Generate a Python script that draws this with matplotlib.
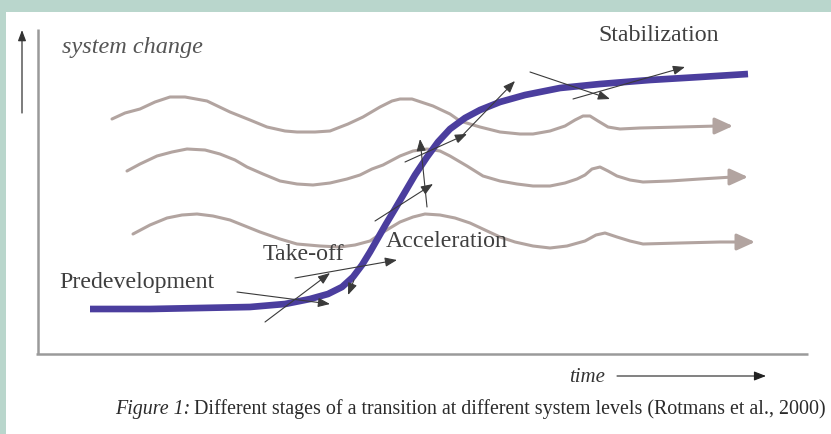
import matplotlib.pyplot as plt
from matplotlib.patches import FancyArrowPatch, Rectangle

# stage labels and caption
labels = ['Predevelopment', 'Take-off', 'Acceleration', 'Stabilization']
label_x = [59, 263, 386, 598]
label_y = [288, 260, 247, 41]

# S-curve (picture coordinates, y grows downwards)
blue_x = [90, 150, 200, 250, 285, 310, 328, 342, 353, 362, 370, 378, 386, 395, 405,
          415, 427, 438, 450, 465, 480, 500, 525, 560, 600, 650, 700, 748]
blue_y = [310, 310, 309, 308, 305, 300, 295, 288, 278, 266, 253, 239, 225, 210, 193,
          176, 158, 143, 130, 119, 111, 103, 96, 89, 85, 81, 78, 75]

# wavy system levels
wave1_x = [112, 125, 140, 155, 170, 185, 207, 230, 250, 267, 285, 297, 315, 330, 348, 363,
           380, 392, 400, 412, 433, 450, 460, 480, 500, 520, 533, 550, 565, 575, 583, 590,
           598, 608, 620, 640, 680, 718, 733]
wave1_y = [120, 114, 110, 103, 98, 98, 102, 113, 121, 128, 132, 133, 133, 132, 125, 118,
           108, 102, 100, 100, 107, 115, 122, 128, 133, 135, 135, 132, 127, 121, 117, 117,
           122, 128, 130, 129, 128, 127, 127]
wave2_x = [127, 140, 157, 172, 187, 205, 220, 235, 247, 263, 280, 297, 313, 330, 347, 360,
           372, 383, 400, 413, 427, 440, 450, 467, 483, 500, 517, 533, 550, 565, 577, 585,
           592, 600, 608, 617, 630, 643, 670, 700, 733, 748]
wave2_y = [172, 165, 157, 153, 150, 151, 155, 161, 168, 175, 182, 185, 186, 184, 180, 176,
           170, 166, 157, 152, 150, 152, 157, 167, 177, 182, 185, 187, 187, 184, 180, 176,
           170, 168, 172, 177, 181, 183, 182, 180, 178, 178]
wave3_x = [133, 150, 167, 182, 197, 213, 230, 245, 260, 280, 297, 320, 340, 355, 370, 385,
           400, 413, 425, 440, 455, 470, 485, 500, 515, 533, 550, 567, 585, 596, 605, 617,
           630, 643, 680, 720, 740, 755]
wave3_y = [235, 226, 219, 216, 215, 217, 221, 227, 233, 240, 245, 247, 248, 246, 242, 232,
           223, 218, 215, 216, 219, 224, 231, 238, 243, 247, 249, 247, 242, 236, 234, 238,
           242, 245, 244, 243, 243, 243]

# thin tangent arrows: start -> end
tan_x0 = [237, 265, 295, 354, 375, 427, 405, 457, 530, 573]
tan_y0 = [293, 323, 279, 281, 222, 208, 163, 142, 73, 100]
tan_x1 = [330, 330, 397, 348, 433, 420, 467, 515, 610, 685]
tan_y1 = [305, 274, 261, 296, 185, 140, 135, 82, 100, 68]

text_col = '#3f3f3f'
serif = 'Liberation Serif'

fig = plt.figure(figsize=(8.31, 4.35), dpi=100, facecolor='#b9d6cc')
ax = fig.add_axes([0, 0, 1, 1])
ax.set_xlim(0, 831)
ax.set_ylim(435, 0)
ax.axis('off')

# white panel inside the green frame
ax.add_patch(Rectangle((6, 13), 825, 422, facecolor='white', edgecolor='none', zorder=0))

# axes of the sketch
ax.plot([38, 38], [30, 355], color='#9a9a9a', lw=1.8, solid_capstyle='butt')
ax.plot([36, 808], [355, 355], color='#9a9a9a', lw=1.8, solid_capstyle='butt')
ax.annotate('', xy=(22, 31), xytext=(22, 114),
            arrowprops=dict(arrowstyle='-|>,head_length=0.8,head_width=0.3',
                            mutation_scale=8, color='#333333', lw=0.9,
                            shrinkA=0, shrinkB=0))

# wavy lines with big arrow heads
wave_col = '#b2a4a0'
for wx, wy in [(wave1_x, wave1_y), (wave2_x, wave2_y), (wave3_x, wave3_y)]:
    ax.plot(wx[:-1], wy[:-1], color=wave_col, lw=2.2, zorder=2,
            solid_joinstyle='round', solid_capstyle='round')
    ax.annotate('', xy=(wx[-1], wy[-1]), xytext=(wx[-2], wy[-2]),
                arrowprops=dict(arrowstyle='-|>,head_length=1.1,head_width=0.5',
                                mutation_scale=10, color=wave_col, lw=2.2,
                                shrinkA=0, shrinkB=0), zorder=2)

# transition curve
ax.plot(blue_x, blue_y, color='#4b3e9e', lw=4.8, zorder=3,
        solid_capstyle='butt', solid_joinstyle='round')

# tangent arrows
for x0, y0, x1, y1 in zip(tan_x0, tan_y0, tan_x1, tan_y1):
    arr = FancyArrowPatch((x0, y0), (x1, y1),
                          arrowstyle='-|>,head_length=0.9,head_width=0.35',
                          mutation_scale=8, color='#3a3a3a', lw=0.8,
                          shrinkA=0, shrinkB=0, zorder=4)
    ax.add_patch(arr)

for s, x, y in zip(labels, label_x, label_y):
    ax.text(x, y, s, fontsize=17.2, family=serif, color=text_col,
            ha='left', va='baseline', zorder=5)

ax.text(62, 53, 'system change', fontsize=17.5, family=serif, style='italic',
        color='#555555', ha='left', va='baseline')

ax.text(569, 382, 'time', fontsize=15, family=serif, style='italic',
        color='#333333', ha='left', va='baseline')
ax.annotate('', xy=(766, 377), xytext=(617, 377),
            arrowprops=dict(arrowstyle='-|>,head_length=0.9,head_width=0.35',
                            mutation_scale=8, color='#222222', lw=0.8,
                            shrinkA=0, shrinkB=0))

# caption: italic prefix + normal text
cap = ax.text(826, 414, 'Different stages of a transition at different system levels (Rotmans et al., 2000)',
              fontsize=14.4, family=serif, color='#2a2a2a', ha='right', va='baseline')
fig.canvas.draw()
bb = cap.get_window_extent().transformed(ax.transData.inverted())
ax.text(bb.x0 - 4, 414, 'Figure 1:', fontsize=14.4, family=serif, style='italic',
        color='#2a2a2a', ha='right', va='baseline')

fig.savefig('out.png', dpi=100, facecolor=fig.get_facecolor())
